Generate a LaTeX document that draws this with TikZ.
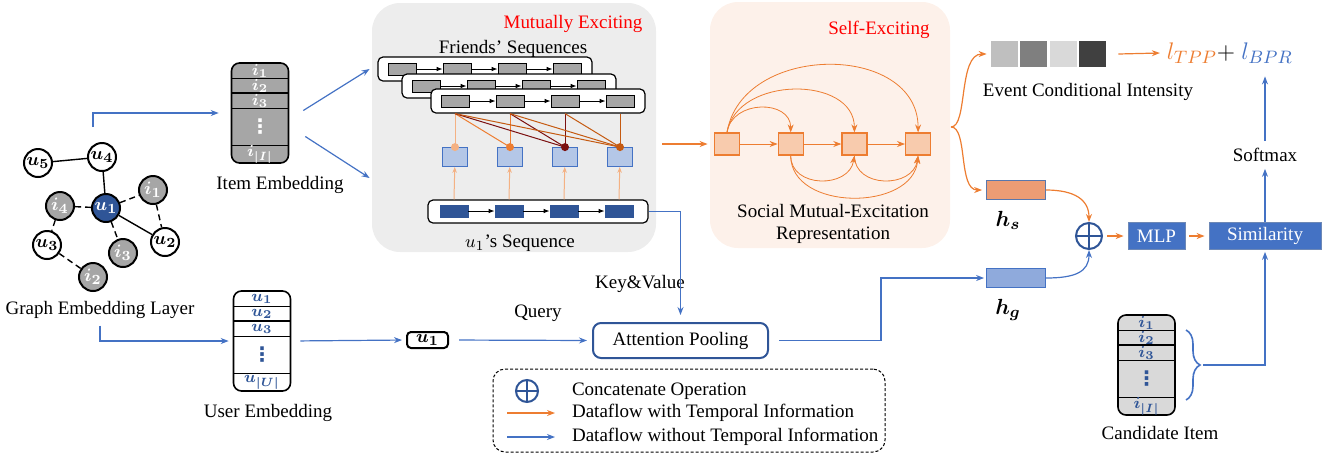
\documentclass[tikz,border=0pt]{standalone}
\usepackage{amsmath}
\usepackage{fontspec}
\setmainfont{Liberation Serif}
\newfontfamily\symfont{DejaVu Sans}
\usetikzlibrary{arrows.meta,positioning,decorations.pathreplacing}

\definecolor{myblue}{HTML}{4472C4}
\definecolor{darkblue}{HTML}{2F5597}
\definecolor{lightblue}{HTML}{B4C7E7}
\definecolor{midblue}{HTML}{8FAADC}
\definecolor{myorange}{HTML}{ED7D31}
\definecolor{lightorange}{HTML}{F8CBAD}
\definecolor{salmon}{HTML}{EC9C74}
\definecolor{peach}{HTML}{F4B183}
\definecolor{darkred}{HTML}{7B1010}
\definecolor{brownorange}{HTML}{C55A11}
\definecolor{panelgray}{HTML}{EDEDED}
\definecolor{panelpeach}{HTML}{FDF1EA}
\definecolor{itemgray}{HTML}{A6A6A6}
\definecolor{candgray}{HTML}{D9D9D9}
\definecolor{evone}{HTML}{BFBFBF}
\definecolor{evtwo}{HTML}{7F7F7F}
\definecolor{evthree}{HTML}{D9D9D9}
\definecolor{evfour}{HTML}{404040}

\begin{document}
\begin{tikzpicture}[x=0.5pt, y=-0.5pt,
  every node/.style = {font=\fontsize{9.5}{11}\selectfont},
  gnode/.style = {circle, draw, line width=1pt, minimum size=14pt, inner sep=0pt, fill=white},
  gitem/.style = {gnode, fill=itemgray, text=white},
  gedge/.style = {line width=0.7pt},
  emb/.style = {draw, line width=0.8pt, rounded corners=4pt, minimum width=28.5pt, minimum height=50pt},
  emblabel/.style = {inner sep=0pt, font=\fontsize{8}{9}\selectfont},
  panel/.style = {rounded corners=14pt, inner sep=0pt},
  seqframe/.style = {draw, fill=white, rounded corners=2.5pt, line width=0.6pt, minimum width=107pt, minimum height=12pt},
  fbox/.style = {draw, fill=itemgray, minimum width=14pt, minimum height=6pt, inner sep=0pt, line width=0.4pt},
  qbox/.style = {draw=myblue, fill=lightblue, minimum width=12.5pt, minimum height=9.5pt, inner sep=0pt, line width=0.4pt},
  ubox/.style = {draw=darkblue, fill=darkblue, minimum width=14pt, minimum height=6pt, inner sep=0pt},
  sbox/.style = {draw=myorange, fill=lightorange, minimum width=12.5pt, minimum height=11pt, inner sep=0pt, line width=0.6pt},
  evbox/.style = {minimum width=13.5pt, minimum height=13pt, inner sep=0pt},
  hbox/.style = {draw=darkblue!80, line width=0.4pt, minimum width=29.5pt, minimum height=9.5pt, inner sep=0pt},
  bluebox/.style = {draw=darkblue!70, fill=myblue, text=white, line width=0.4pt, minimum height=13.5pt, inner sep=0pt},
  loss/.style = {font=\fontsize{13}{15}\selectfont},
  catop/.style = {circle, draw=darkblue, line width=1pt, minimum size=13pt, inner sep=0pt,
    path picture={\draw[darkblue, line width=1pt] (path picture bounding box.north) -- (path picture bounding box.south)
      (path picture bounding box.west) -- (path picture bounding box.east);}},
  barrow/.style = {-{Stealth[length=4pt,width=3pt]}, myblue, line width=0.6pt},
  oarrow/.style = {-{Stealth[length=4pt,width=3pt]}, myorange, line width=0.6pt}
  ]
\useasboundingbox (0,0) rectangle (1340,457);

% panels
\node (mpanel) [panel, fill=panelgray, minimum width=142pt, minimum height=124.5pt] at (514,127.5) {};
\node (spanel) [panel, fill=panelpeach, minimum width=120pt, minimum height=123pt] at (830,125) {};
\node (mtitle) [red] at (573,24) {Mutually Exciting};
\node (stitle) [red] at (879,30) {Self-Exciting};
\node (ftitle) at (513,49) {Friends' Sequences};
\node (utitle) at (520,243) {$u_1$'s Sequence};
\node (stext) [align=center] at (833,224) {Social Mutual-Excitation\\Representation};

% graph
\node (u1) [gnode, fill=darkblue, text=white] at (106,208) {$\boldsymbol{u_1}$};
\node (u2) [gnode] at (165,242) {$\boldsymbol{u_2}$};
\node (u3) [gnode] at (47,245) {$\boldsymbol{u_3}$};
\node (u4) [gnode] at (102,157) {$\boldsymbol{u_4}$};
\node (u5) [gnode] at (38,163) {$\boldsymbol{u_5}$};
\node (i1) [gitem] at (153,190) {$\boldsymbol{i_1}$};
\node (i2) [gitem] at (93,277) {$\boldsymbol{i_2}$};
\node (i3) [gitem] at (123,253) {$\boldsymbol{i_3}$};
\node (i4) [gitem] at (60,206) {$\boldsymbol{i_4}$};
\foreach \a/\b in {u5/u4, u4/u1, u1/u2}
  \draw[gedge] (\a) -- (\b);
\foreach \a/\b in {u1/i4, u1/i1, u1/i3, i1/u2, i4/u3, u3/i2}
  \draw[gedge, dash pattern=on 3pt off 2pt] (\a) -- (\b);
\node (glabel) at (100,310) {Graph Embedding Layer};
\coordinate (gtop) at (93,127);

% embedding tables
\foreach \nm/\cx/\ty/\fc/\tc/\lt/\ut in {item/260/63/itemgray/white/i/I, user/262/291/white/darkblue/u/U, cand/1146.5/315/candgray/darkblue/i/I} {
  \node (\nm) [emb, fill=\fc] at (\cx,\ty+50) {};
  \foreach \d in {15.5,30,45.5,82.5}
    \draw[line width=0.8pt] (\cx-28.5,\ty+\d) -- (\cx+28.5,\ty+\d);
  \node[emblabel, text=\tc] at (\cx,\ty+8) {$\boldsymbol{\lt_1}$};
  \node[emblabel, text=\tc] at (\cx,\ty+23) {$\boldsymbol{\lt_2}$};
  \node[emblabel, text=\tc] at (\cx,\ty+38) {$\boldsymbol{\lt_3}$};
  \node[emblabel, text=\tc, font=\symfont\bfseries\fontsize{10}{10}\selectfont] at (\cx,\ty+64) {⋮};
  \node[emblabel, text=\tc] at (\cx,\ty+91.5) {$\boldsymbol{\lt_{|\ut|}}$};
}
\node at (280,185) {Item Embedding};
\node at (268,413) {User Embedding};
\node at (1160,433) {Candidate Item};

% friends' sequences
\foreach \s/\sx/\sy in {1/378/57, 2/402/74, 3/431/89} {
  \node (fr\s) [seqframe] at (\sx+107,\sy+12) {};
  \foreach \k in {1,...,4}
    \node (fs\s\k) [fbox] at (\sx-31+55*\k,\sy+12) {};
  \foreach \k/\kk in {1/2, 2/3, 3/4}
    \draw[-{Latex[length=3pt]}, line width=0.4pt] (fs\s\k) -- (fs\s\kk);
}

% u1's sequence and queries
\node (useq) [seqframe, minimum width=110pt, minimum height=11.5pt] at (538,211.5) {};
\foreach \k in {1,...,4} {
  \node (us\k) [ubox] at (399+55*\k,211) {};
  \node (qs\k) [qbox] at (400+55*\k,157) {};
  \draw[-{Stealth[length=3pt]}, peach, line width=0.5pt] (us\k |- useq.north) -- (qs\k);
}
\foreach \k/\kk in {1/2, 2/3, 3/4}
  \draw[-{Latex[length=3pt]}, line width=0.4pt] (us\k) -- (us\kk);
\foreach \tg/\c in {1/peach, 2/myorange, 3/darkred, 4/brownorange} {
  \foreach \s in {1,...,\tg}
    \draw[\c, line width=0.5pt] (fs3\s |- fr3.south) -- (qs\tg.north);
  \fill[\c] (qs\tg.north) circle (2pt);
}

% self-exciting
\foreach \k in {1,...,4}
  \node (se\k) [sbox] at (663.3+63.7*\k,144) {};
\foreach \k/\kk in {1/2, 2/3, 3/4}
  \draw[oarrow, line width=0.4pt] (se\k) -- (se\kk);
\draw[oarrow, line width=0.4pt] (se1.north) .. controls +(5,-33) and +(0,-33) .. (se2.north);
\draw[oarrow, line width=0.4pt] (se1.north) .. controls +(10,-57) and +(0,-57) .. (se3.north);
\draw[oarrow, line width=0.4pt] (se1.north) .. controls +(15,-90) and +(0,-90) .. (se4.north);
\draw[oarrow, line width=0.4pt] (se2.south) .. controls +(0,33) and +(-5,33) .. (se3.south);
\draw[oarrow, line width=0.4pt] (se2.south) .. controls +(0,56) and +(-5,56) .. (se4.south);
\draw[oarrow, line width=0.4pt] (se3.south) .. controls +(0,33) and +(-5,33) .. (se4.south);
\draw[oarrow] ([xshift=3pt]mpanel.east |- se1.center) -- ([xshift=-1pt]spanel.west |- se1.center);

% event conditional intensity
\foreach \k/\c in {1/evone, 2/evtwo, 3/evthree, 4/evfour}
  \node (ev\k) [evbox, fill=\c] at (975.2+29.3*\k,54) {};
\node (evtext) at (1088,92) {Event Conditional Intensity};
\node (ltpp) [loss, text=myorange] at (1192,53) {$l_{TPP}$};
\node (plus) [loss] at (1226,53) {$+$};
\node (lbpr) [loss, text=myblue] at (1267,53) {$l_{BPR}$};
\draw[oarrow] ([xshift=6pt]ev4.east) -- (ltpp.west);
\coordinate (fork) at (951,127);

% fusion
\node (hs) [hbox, fill=salmon] at (1016,190) {};
\node (hg) [hbox, fill=midblue, draw=myblue] at (1016,278) {};
\node [below=2pt of hs, xshift=-4pt, font=\fontsize{11}{13}\selectfont] {$\boldsymbol{h_s}$};
\node [below=2pt of hg, xshift=-4pt, font=\fontsize{11}{13}\selectfont] {$\boldsymbol{h_g}$};
\node (cat) [catop] at (1089,236) {};
\node (mlp) [bluebox, minimum width=28.5pt] at (1156.5,236) {MLP};
\node (sim) [bluebox, minimum width=56pt] at (1265,236) {Similarity};
\node (smax) at (1265,155) {Softmax};
\draw[oarrow, shorten >=2pt] (fork) .. controls (968,127) and (958,54) .. (ev1.west);
\draw[oarrow, shorten >=2pt] (fork) .. controls (968,127) and (958,190) .. (hs.west);
\draw[oarrow] (hs.east) .. controls (1075,190) and (1089,200) .. (cat.north);
\draw[barrow] (hg.east) .. controls (1075,278) and (1089,272) .. (cat.south);
\draw[oarrow] ([xshift=2pt]cat.east) -- ([xshift=-2pt]mlp.west);
\draw[oarrow] ([xshift=2pt]mlp.east) -- ([xshift=-2pt]sim.west);
\draw[barrow] (sim.north) -- (smax.south);
\draw[barrow, shorten >=3pt] (smax.north) -- (smax.north |- lbpr.south);

% attention pooling
\node (att) [draw=darkblue, line width=1pt, rounded corners=4pt, minimum width=87.5pt, minimum height=17.5pt] at (680.5,340.5) {Attention Pooling};
\node (ub) [draw, line width=1pt, rounded corners=2pt, minimum width=20.5pt, minimum height=8pt, inner sep=0pt] at (427.5,340) {$\boldsymbol{u_1}$};
\node (kv) at (640,284) {Key\&Value};
\node (query) at (538,313) {Query};
\draw[barrow] (gtop) |- ([xshift=-6pt]item.west);
\draw[barrow, shorten >=2pt] (glabel.south) |- (user.west);
\draw[barrow] ([shift={(7pt,1.25pt)}]item.east) -- ([xshift=-1pt]mpanel.west |- fr1);
\draw[barrow] ([shift={(8pt,-11.75pt)}]item.east) -- ([xshift=-1pt]mpanel.west |- 0,178);
\draw[barrow, shorten <=4.5pt, shorten >=2pt] (user.east) -- (ub.west);
\draw[barrow, shorten <=5pt, shorten >=2.5pt] (ub.east) -- (att.west);
\draw[barrow, shorten >=3.5pt] (useq.east) -| (att.north);
\draw[barrow, shorten <=5pt, shorten >=1pt] (att.east) -- ++(112,0) |- (hg.west);

% candidate brace
\draw[myblue, line width=0.8pt, decorate, decoration={brace, amplitude=7pt}] (1186,330) -- (1186,400);
\coordinate (btip) at (1203,365);
\draw[barrow, shorten >=1pt] (btip) -| (sim.south);

% legend
\node (legend) [draw, dash pattern=on 1.5pt off 1pt, line width=0.5pt, rounded corners=6pt, minimum width=196pt, minimum height=41.5pt] at (689,410.5) {};
\node (lcat) [catop, minimum size=11pt] at (527,391) {};
\node (lt1) [anchor=west] at (565,391) {Concatenate Operation};
\node (lt2) [anchor=west] at (565,413) {Dataflow with Temporal Information};
\node (lt3) [anchor=west] at (565,437) {Dataflow without Temporal Information};
\coordinate (lo1) at (507,413);
\coordinate (lo2) at (555,413);
\coordinate (lb1) at (507,437);
\coordinate (lb2) at (555,437);
\draw[oarrow] (lo1) -- (lo2);
\draw[barrow] (lb1) -- (lb2);
\end{tikzpicture}
\end{document}
